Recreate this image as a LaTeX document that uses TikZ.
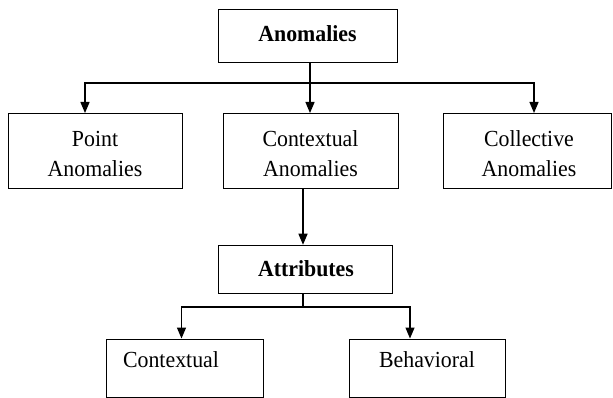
\documentclass[tikz,border=0pt]{standalone}
\usepackage{fontspec}
\setmainfont{Liberation Serif}[FakeStretch=0.95]
\usetikzlibrary{arrows.meta,calc}
\begin{document}
\begin{tikzpicture}[x=1pt,y=-1pt,
  box/.style={draw,line width=1pt,inner sep=0pt},
  lbl/.style={inner sep=0pt,anchor=base,font=\fontsize{23}{27}\selectfont},
  blbl/.style={lbl,font=\bfseries\fontsize{23}{27}\selectfont},
  conn/.style={line width=1.3pt},
  arr/.style={line width=1.3pt,-{Triangle[width=9pt,length=11pt]}}]
\useasboundingbox (0,0) rectangle (613,398);
\node[box,minimum width=179pt,minimum height=53pt] (anom) at (307.5,36.5) {};
\node[box,minimum width=174pt,minimum height=75pt] (point) at (95,151) {};
\node[box,minimum width=175pt,minimum height=75pt] (cont) at (310.5,151) {};
\node[box,minimum width=168pt,minimum height=75pt] (coll) at (527,151) {};
\node[box,minimum width=174pt,minimum height=48.5pt] (attr) at (305,269.5) {};
\node[box,minimum width=157pt,minimum height=58pt] (ctx) at (184.5,368) {};
\node[box,minimum width=156pt,minimum height=58pt] (beh) at (427,368) {};
\node[blbl] (anomt) at (307.5,41.7) {Anomalies};
\node[lbl] (pointt1) at (95,146.7) {Point};
\node[lbl] (pointt2) at (95,176.7) {Anomalies};
\node[lbl] (contt1) at (310.5,146.7) {Contextual};
\node[lbl] (contt2) at (310.5,176.7) {Anomalies};
\node[lbl] (collt1) at (529,146.7) {Collective};
\node[lbl] (collt2) at (529,176.7) {Anomalies};
\node[blbl] (attrt) at (306,276) {Attributes};
\node[lbl] (ctxt) at (171,367) {Contextual};
\node[lbl] (beht) at (427,367) {Behavioral};
\coordinate (bus) at (310,83);
\coordinate (bus2) at (303,307);
\draw[conn] (anom.south -| bus) -- (bus);
\draw[arr] (bus) -| ($(point.north)+(-10,0)$);
\draw[arr] (bus) -| ($(coll.north)+(7,0)$);
\draw[arr] (bus) -- (cont.north -| bus);
\draw[arr] (cont.south -| bus2) -- (attr.north -| bus2);
\draw[conn] (attr.south -| bus2) -- (bus2);
\draw[arr] (bus2) -| ($(ctx.north)+(-3,0)$);
\draw[arr] (bus2) -| ($(beh.north)+(-17,0)$);
\end{tikzpicture}
\end{document}
